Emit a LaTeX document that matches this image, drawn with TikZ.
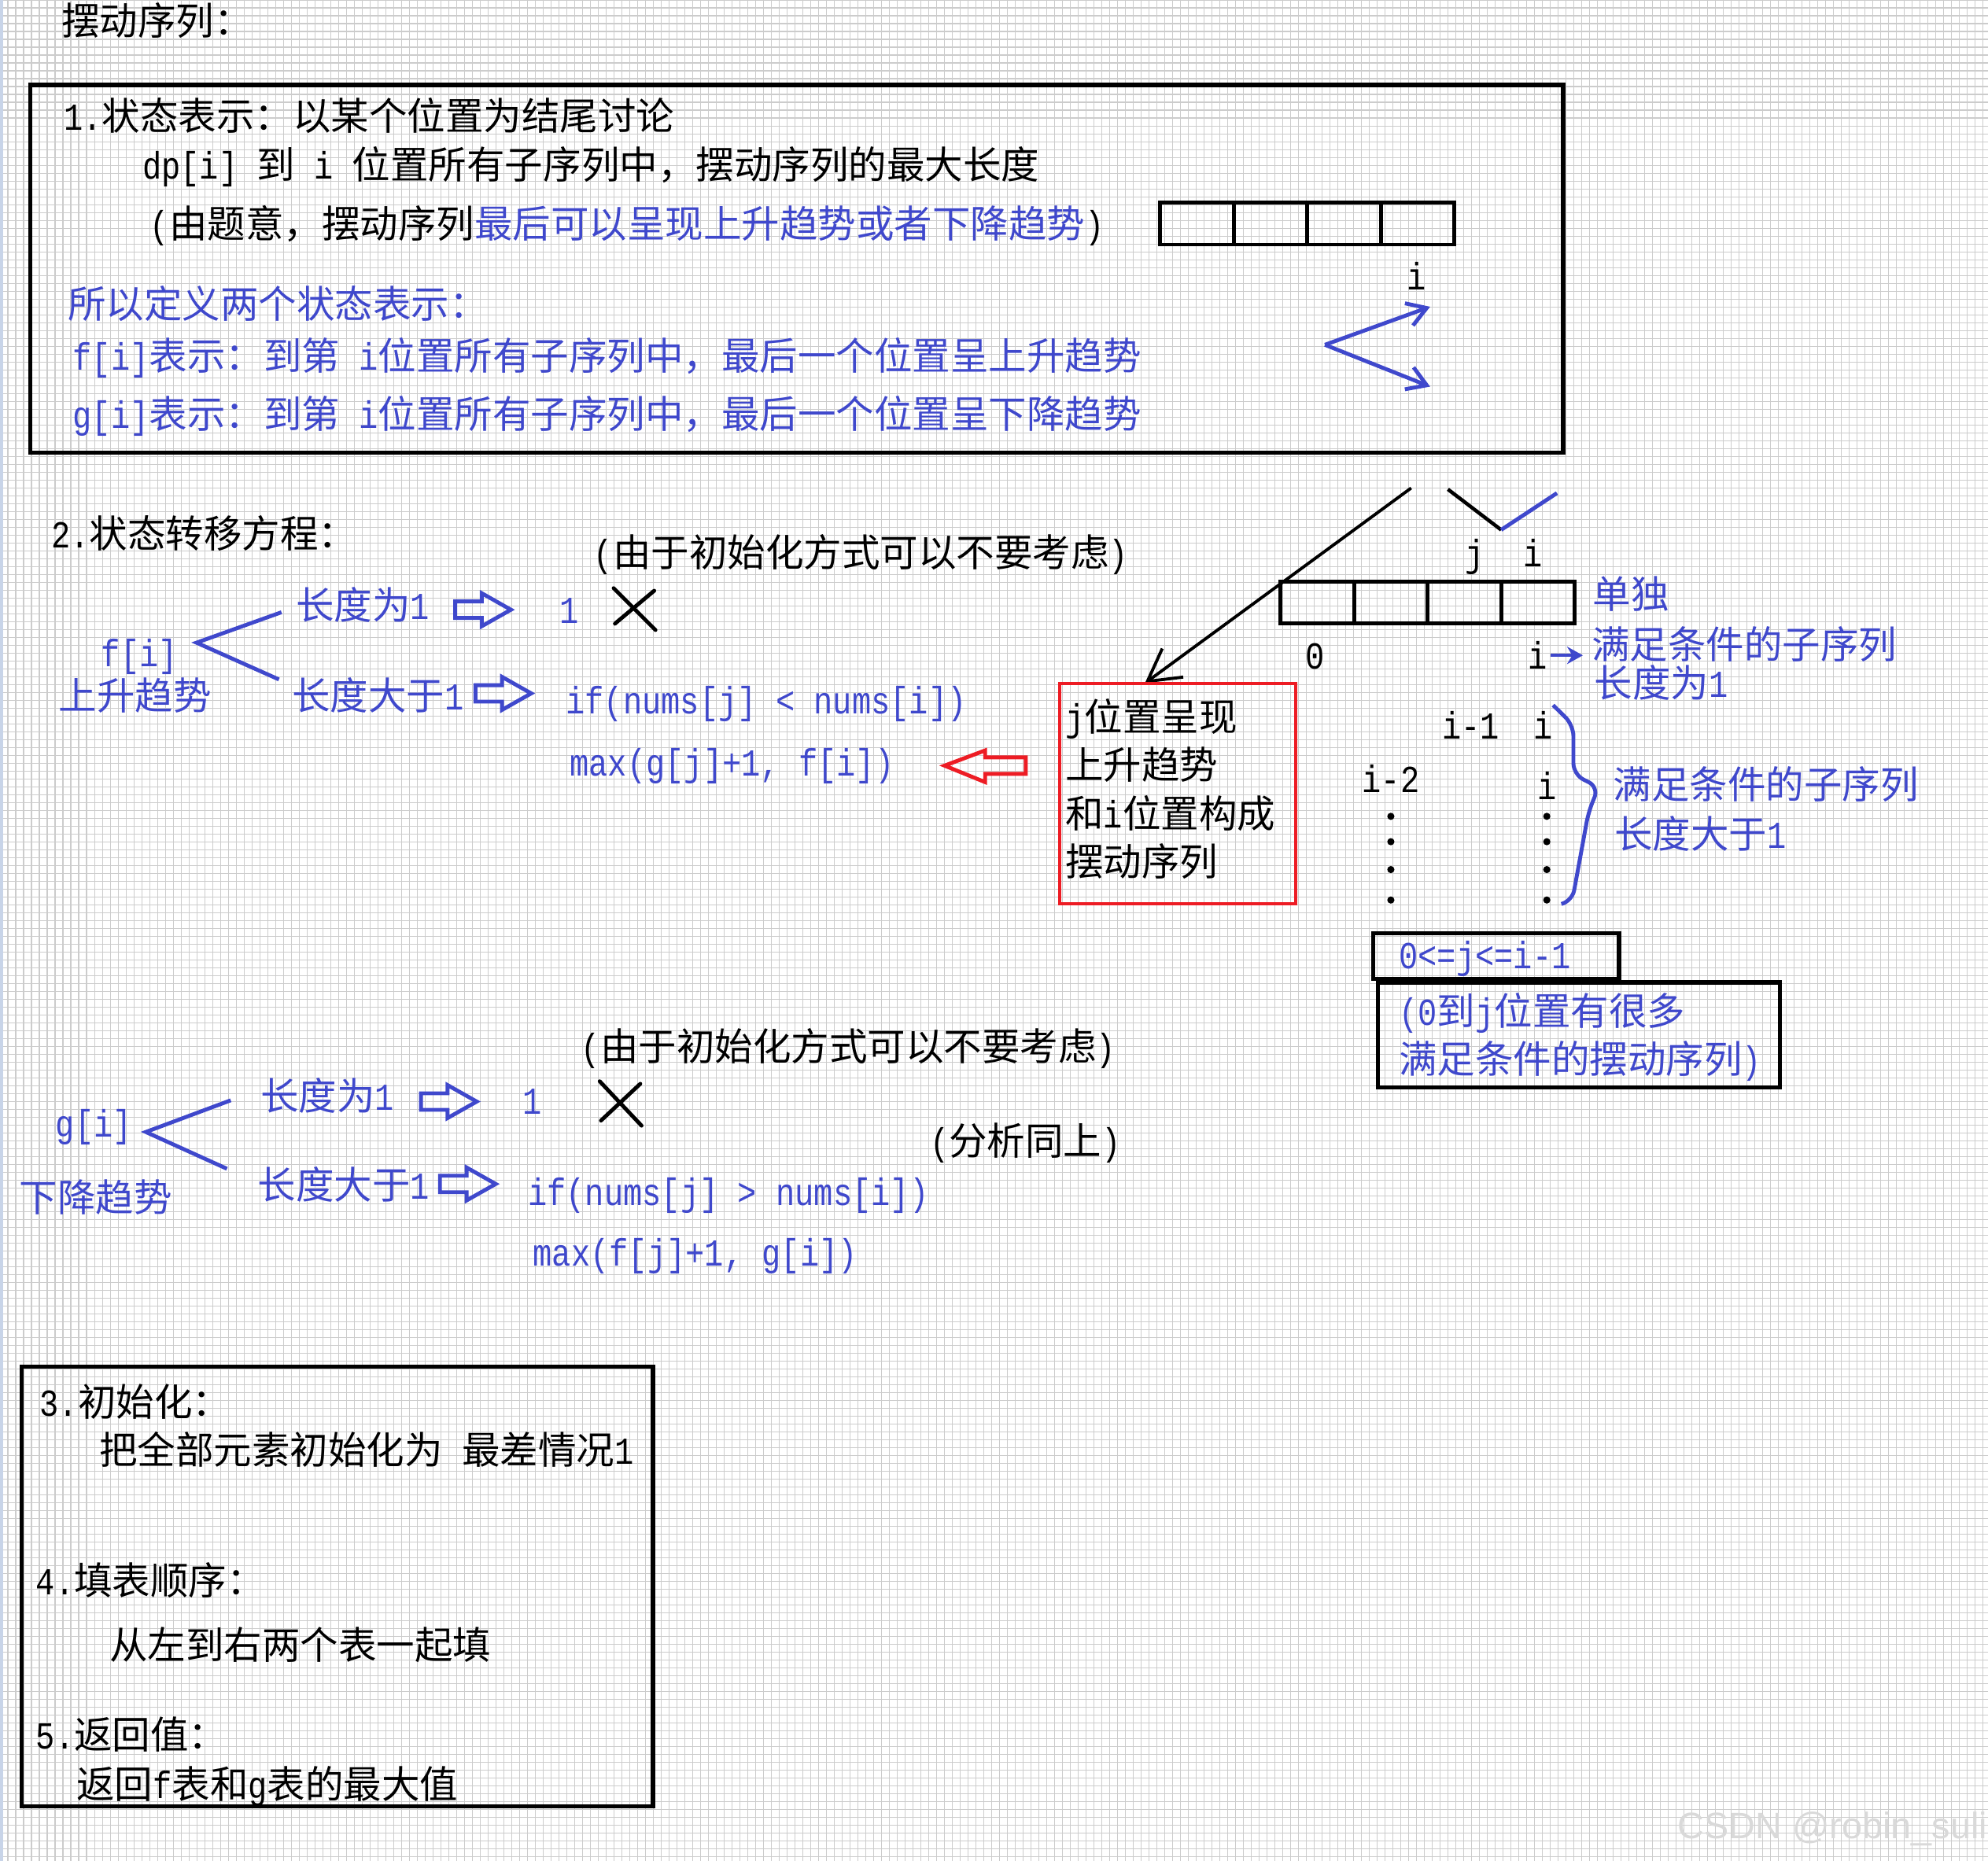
\documentclass[tikz,border=0pt]{standalone}
\usepackage{fontspec}
\setmainfont{Liberation Mono}[FakeStretch=0.833]
\newfontfamily\latinfont{Liberation Mono}[FakeStretch=0.833]
\newfontfamily\cjkfont{Noto Sans CJK SC}
\newfontfamily\wmfont{Liberation Sans}
\usetikzlibrary{arrows.meta}
\definecolor{penblue}{RGB}{63,72,204}
\definecolor{penred}{RGB}{237,28,36}
\definecolor{edgeblue}{RGB}{200,212,232}
% 汉字与西文自动切换字体
\newif\ifmix
\XeTeXinterchartokenstate=1
\newXeTeXintercharclass\cjkcls
\count255="3000
\loop \XeTeXcharclass\count255=\cjkcls \ifnum\count255<"9FFF \advance\count255 by 1 \repeat
\count255="FF00
\loop \XeTeXcharclass\count255=\cjkcls \ifnum\count255<"FFEF \advance\count255 by 1 \repeat
\XeTeXinterchartoks 0 \cjkcls = {\ifmix\cjkfont\fi}
\XeTeXinterchartoks 4095 \cjkcls = {\ifmix\cjkfont\fi}
\XeTeXinterchartoks \cjkcls 0 = {\ifmix\latinfont\fi}
\XeTeXinterchartoks \cjkcls 4095 = {\ifmix\latinfont\fi}
\XeTeXinterchartoks 4095 0 = {\ifmix\latinfont\fi}

\begin{document}
\begin{tikzpicture}[x=0.016116cm, y=-0.016116cm, >=Stealth,
	txt/.style={anchor=west, inner sep=0pt, text height=12pt, text depth=2pt, font=\fontsize{13.8}{16}\selectfont\mixtrue},
	btxt/.style={txt, text=penblue},
	ctxt/.style={txt, anchor=center},
	boxline/.style={draw, line width=1.5pt},
	cellbox/.style={draw, line width=1.4pt},
	bluepen/.style={draw=penblue, line width=1.4pt},
	xmark/.style={line width=1.4pt, line cap=round},
	barb/.style={-{Straight Barb[length=2.4mm, width=3mm]}},
	fatarrow/.pic={\draw[penblue, line width=1.4pt, line join=miter] (0,-6.5) -- (21,-6.5) -- (21,-13) -- (44,0) -- (21,13) -- (21,6.5) -- (0,6.5) -- cycle;}]
	% 背景网格
	\useasboundingbox (0,0) rectangle (1568,1468);
	\fill[white] (0,0) rectangle (1568,1468);
	\draw[gray!40, line width=0.3pt, step=0.1cm] (0,0) grid (1568,1468);
	\fill[edgeblue] (0,0) rectangle (2.5,1468);
	\node[txt] (title) at (48,17) {摆动序列：};
	% 1. 状态表示
	\draw[boxline] (24,67) rectangle (1233,357);
	\node[txt] (def) at (50,92) {1.状态表示：以某个位置为结尾讨论};
	\node[txt] (dp) at (112,130) {dp[i] 到 i 位置所有子序列中，摆动序列的最大长度};
	\node[txt] (why) at (118,177) {(由题意，摆动序列\textcolor{penblue}{最后可以呈现上升趋势或者下降趋势})};
	\node[btxt] (two) at (53,240) {所以定义两个状态表示：};
	\node[btxt] (fdef) at (57,281) {f[i]表示：到第 i位置所有子序列中，最后一个位置呈上升趋势};
	\node[btxt] (gdef) at (57,327) {g[i]表示：到第 i位置所有子序列中，最后一个位置呈下降趋势};
	\foreach \k in {0,...,3}
		\draw[cellbox] (915+58*\k,160) rectangle ++(58,33);
	\node[ctxt] (itop) at (1117,218) {i};
	\coordinate (turn) at (1045,272);
	\coordinate (up) at (1128,242);
	\coordinate (down) at (1128,305);
	\draw[bluepen, barb] (turn) -- (up);
	\draw[bluepen, barb] (turn) -- (down);
	% 2. 状态转移方程
	\node[txt] (trans) at (40,421) {2.状态转移方程：};
	\node[txt] (note1) at (468,436) {(由于初始化方式可以不要考虑)};
	\node[btxt, anchor=center] (f) at (110,515) {f[i]};
	\node[btxt] (fup) at (46,549) {上升趋势};
	\node[btxt] (flen1) at (233,478) {长度为1};
	\node[btxt] (flen2) at (230,549) {长度大于1};
	\draw[bluepen] (222,483) -- (155,507) -- (220,536);
	\pic at (359,481) {fatarrow};
	\node[btxt, anchor=center] (fone) at (449,481) {1};
	\draw[xmark] (484,464) -- (517,497) (516,466) -- (485,492);
	\pic at (375,547) {fatarrow};
	\node[btxt] (fif) at (446,552) {if(nums[j] < nums[i])};
	\node[btxt] (fmax) at (449,601) {max(g[j]+1, f[i])};
	\draw[penred, line width=1.4pt, line join=miter] (745,604) -- (777,592) -- (777,597.5) -- (809,597.5) -- (809,610.5) -- (777,610.5) -- (777,617) -- cycle;
	% 右侧示意
	\coordinate (from) at (1113,385);
	\coordinate (hit) at (903,539);
	\draw[line width=1.1pt, -{Straight Barb[length=4mm, width=4.5mm]}] (from) -- (hit);
	\coordinate (vl) at (1142,386);
	\coordinate (vm) at (1184,418);
	\coordinate (vr) at (1228,389);
	\draw[line width=1.3pt] (vl) -- (vm);
	\draw[bluepen] (vm) -- (vr);
	\node[ctxt] (jtop) at (1163,436) {j};
	\node[ctxt] (itop2) at (1209,436) {i};
	\foreach \k in {0,...,3}
		\draw[cellbox] (1010+58*\k,459) rectangle ++(58,33);
	\node[ctxt] (zero) at (1037,517) {0};
	\node[ctxt] (iend) at (1213,517) {i};
	\node[btxt] (alone) at (1256,469) {单独};
	\node[btxt] (ok1) at (1255,509) {满足条件的子序列};
	\node[btxt] (len1r) at (1257,539) {长度为1};
	\draw[bluepen, line width=1.2pt, -{Stealth[length=2mm, width=2.2mm]}, shorten <=1pt, shorten >=3pt] (iend.east) -- (iend.east -| ok1.west);
	\draw[penred, line width=1.1pt] (836,539) rectangle (1022,713);
	\foreach \t [count=\n] in {j位置呈现, 上升趋势, 和i位置构成, 摆动序列}
		\node[txt] (red\n) at (840,528+38*\n) {\t};
	\node[ctxt] (im1) at (1160,572) {i-1};
	\node[ctxt] (ia) at (1217,572) {i};
	\node[ctxt] (im2) at (1097,614) {i-2};
	\node[ctxt] (ib) at (1220,620) {i};
	\foreach \yy in {644,664,686,710} {
		\fill (1097,\yy) circle (1.3pt);
		\fill (1220,\yy) circle (1.3pt);
	}
	\draw[bluepen, rounded corners=4pt] (ia.north east) -- (1241,572) -- (1241,611) -- (1261,621) -- (1253,640) -- (1240,711) -- (1232,713);
	\node[btxt] (ok2) at (1272,619) {满足条件的子序列};
	\node[btxt] (len2r) at (1273,658) {长度大于1};
	\draw[boxline] (1083,736) rectangle (1277,772);
	\node[btxt] (range) at (1103,753) {0<=j<=i-1};
	\draw[boxline] (1087,775) rectangle (1404,858);
	\node[btxt] (many1) at (1103,798) {(0到j位置有很多};
	\node[btxt] (many2) at (1103,836) {满足条件的摆动序列)};
	% g[i] 下降趋势
	\node[txt] (note2) at (458,826) {(由于初始化方式可以不要考虑)};
	\node[btxt, anchor=center] (g) at (74,886) {g[i]};
	\node[btxt] (gdown) at (15,945) {下降趋势};
	\node[btxt] (glen1) at (205,865) {长度为1};
	\node[btxt] (glen2) at (203,935) {长度大于1};
	\draw[bluepen] (182,868) -- (115,893) -- (179,922);
	\pic at (332,869) {fatarrow};
	\node[btxt, anchor=center] (gone) at (420,868) {1};
	\draw[xmark] (473,853) -- (506,888) (505,855) -- (474,884);
	\node[txt] (same) at (733,900) {(分析同上)};
	\pic at (347,934) {fatarrow};
	\node[btxt] (gif) at (416,940) {if(nums[j] > nums[i])};
	\node[btxt] (gmax) at (420,988) {max(f[j]+1, g[i])};
	% 3-5. 初始化、填表顺序、返回值
	\draw[boxline] (17,1078) rectangle (515,1425);
	\node[txt] (init) at (31,1106) {3.初始化：};
	\node[txt] (initv) at (78,1144) {把全部元素初始化为 最差情况1};
	\node[txt] (order) at (28,1247) {4.填表顺序：};
	\node[txt] (orderv) at (86,1298) {从左到右两个表一起填};
	\node[txt] (ret) at (28,1369) {5.返回值：};
	\node[txt] (retv) at (60,1408) {返回f表和g表的最大值};
	\node[anchor=west, inner sep=0pt, text=gray!30, font=\wmfont\fontsize{13.3}{15}\selectfont] (mark) at (1323,1443) {CSDN @robin\_suli};
\end{tikzpicture}
\end{document}
